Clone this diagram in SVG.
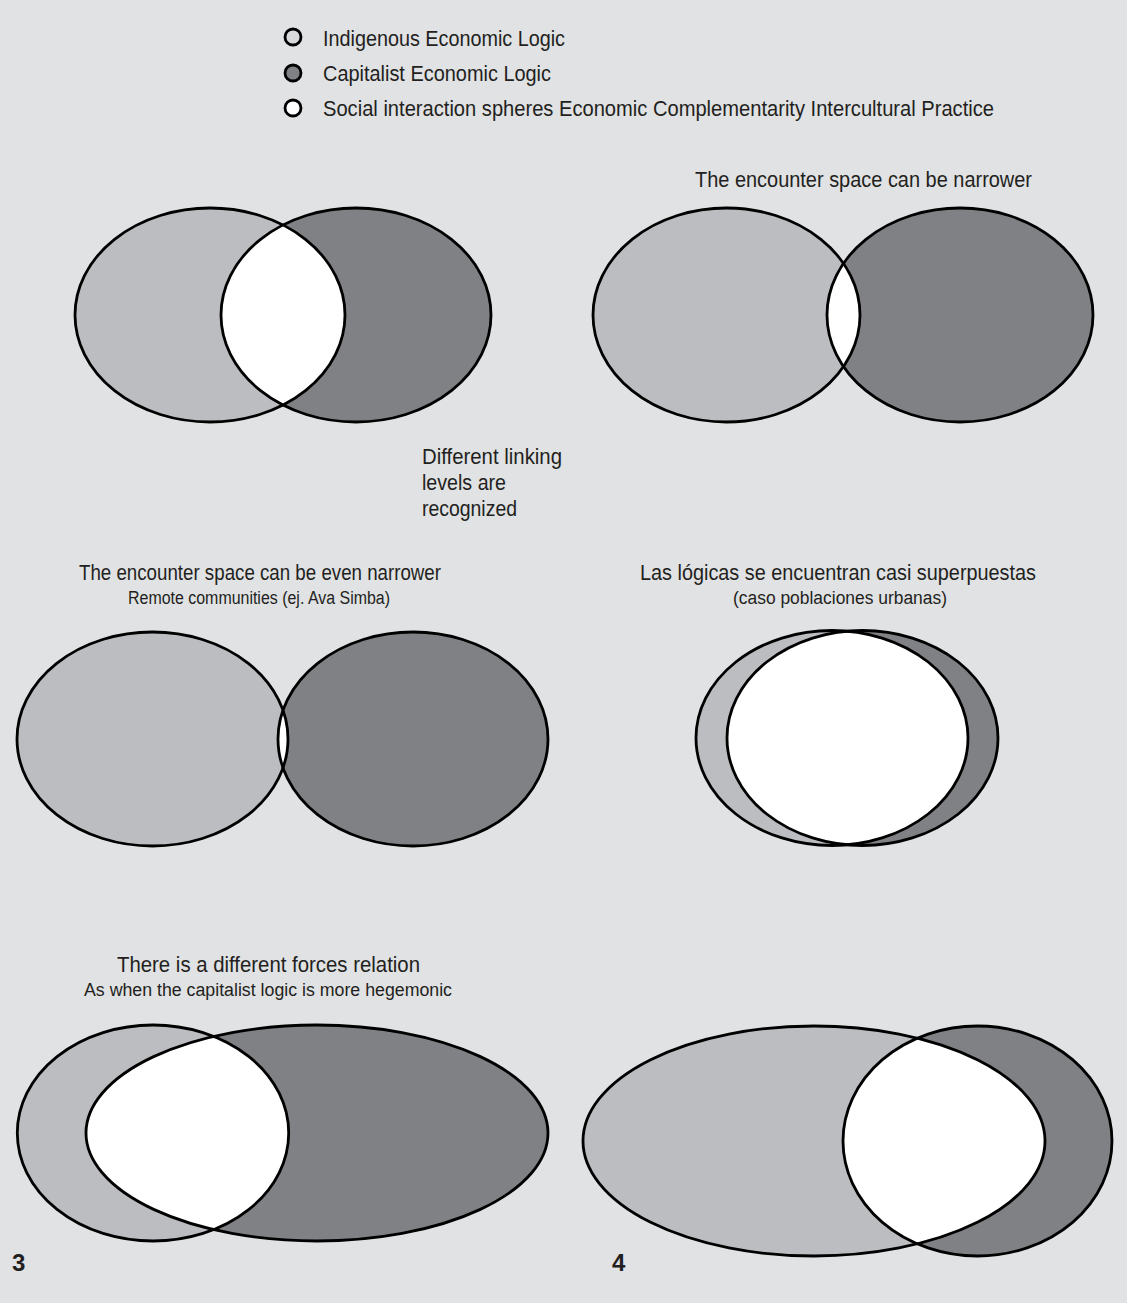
<svg xmlns="http://www.w3.org/2000/svg" width="1127" height="1303" viewBox="0 0 1127 1303">
<style>
.bg{fill:#e1e2e4}
.l{fill:#bcbdc1}
.d{fill:#808185}
.w{fill:#ffffff}
.s{fill:none;stroke:#000;stroke-width:2.8}
.lg{stroke:#000;stroke-width:2.8}
text{font-family:'Liberation Sans',Arial,sans-serif;fill:#231f20}
.t{font-size:22px}
.st{font-size:18px}
.n{font-size:24px;font-weight:bold}
</style>
<defs>
<clipPath id="c1"><ellipse cx="210" cy="315" rx="135" ry="107"/></clipPath>
<clipPath id="c2"><ellipse cx="726.5" cy="315" rx="133.5" ry="107"/></clipPath>
<clipPath id="c3"><ellipse cx="152.5" cy="739" rx="135.5" ry="107"/></clipPath>
<clipPath id="c4"><ellipse cx="832" cy="738" rx="136" ry="107.5"/></clipPath>
<clipPath id="c5"><ellipse cx="153" cy="1133" rx="135.7" ry="108"/></clipPath>
<clipPath id="c6"><ellipse cx="814" cy="1141" rx="231" ry="115"/></clipPath>
</defs>
<rect class="bg" x="0" y="0" width="1127" height="1303"/>

<g id="legend">
<circle class="lg" cx="293" cy="37" r="8" fill="#d9dadc"/>
<text class="t" x="323" y="46" textLength="242" lengthAdjust="spacingAndGlyphs">Indigenous Economic Logic</text>
<circle class="lg" cx="293" cy="73" r="8" fill="#808185"/>
<text class="t" x="323" y="81" textLength="228" lengthAdjust="spacingAndGlyphs">Capitalist Economic Logic</text>
<circle class="lg" cx="293" cy="108" r="8" fill="#fff"/>
<text class="t" x="323" y="116" textLength="671" lengthAdjust="spacingAndGlyphs">Social interaction spheres Economic Complementarity Intercultural Practice</text>
</g>

<g id="diagram1">
<ellipse class="l" cx="210" cy="315" rx="135" ry="107"/>
<ellipse class="d" cx="356" cy="315" rx="135" ry="107"/>
<ellipse class="w" cx="356" cy="315" rx="135" ry="107" clip-path="url(#c1)"/>
<ellipse class="s" cx="210" cy="315" rx="135" ry="107"/>
<ellipse class="s" cx="356" cy="315" rx="135" ry="107"/>
</g>

<g id="diagram2">
<text class="t" x="695" y="187" textLength="337" lengthAdjust="spacingAndGlyphs">The encounter space can be narrower</text>
<ellipse class="l" cx="726.5" cy="315" rx="133.5" ry="107"/>
<ellipse class="d" cx="960" cy="315" rx="133" ry="107"/>
<ellipse class="w" cx="960" cy="315" rx="133" ry="107" clip-path="url(#c2)"/>
<ellipse class="s" cx="726.5" cy="315" rx="133.5" ry="107"/>
<ellipse class="s" cx="960" cy="315" rx="133" ry="107"/>
</g>

<g id="note">
<text class="t" x="422" y="464" textLength="140" lengthAdjust="spacingAndGlyphs">Different linking</text>
<text class="t" x="422" y="490" textLength="84" lengthAdjust="spacingAndGlyphs">levels are</text>
<text class="t" x="422" y="516" textLength="95" lengthAdjust="spacingAndGlyphs">recognized</text>
</g>

<g id="diagram3">
<text class="t" x="79" y="580" textLength="362" lengthAdjust="spacingAndGlyphs">The encounter space can be even narrower</text>
<text class="st" x="128" y="604" textLength="262" lengthAdjust="spacingAndGlyphs">Remote communities (ej. Ava Simba)</text>
<ellipse class="l" cx="152.5" cy="739" rx="135.5" ry="107"/>
<ellipse class="d" cx="413" cy="739" rx="135" ry="107"/>
<ellipse class="w" cx="413" cy="739" rx="135" ry="107" clip-path="url(#c3)"/>
<ellipse class="s" cx="152.5" cy="739" rx="135.5" ry="107"/>
<ellipse class="s" cx="413" cy="739" rx="135" ry="107"/>
</g>

<g id="diagram4">
<text class="t" x="640" y="580" textLength="396" lengthAdjust="spacingAndGlyphs">Las lógicas se encuentran casi superpuestas</text>
<text class="st" x="733" y="604" textLength="214" lengthAdjust="spacingAndGlyphs">(caso poblaciones urbanas)</text>
<ellipse class="l" cx="832" cy="738" rx="136" ry="107.5"/>
<ellipse class="d" cx="862.5" cy="738" rx="135.5" ry="107.5"/>
<ellipse class="w" cx="862.5" cy="738" rx="135.5" ry="107.5" clip-path="url(#c4)"/>
<ellipse class="s" cx="832" cy="738" rx="136" ry="107.5"/>
<ellipse class="s" cx="862.5" cy="738" rx="135.5" ry="107.5"/>
</g>

<g id="diagram5">
<text class="t" x="117" y="972" textLength="303" lengthAdjust="spacingAndGlyphs">There is a different forces relation</text>
<text class="st" x="84" y="996" textLength="368" lengthAdjust="spacingAndGlyphs">As when the capitalist logic is more hegemonic</text>
<ellipse class="l" cx="153" cy="1133" rx="135.7" ry="108"/>
<ellipse class="d" cx="317" cy="1133" rx="231" ry="108"/>
<ellipse class="w" cx="317" cy="1133" rx="231" ry="108" clip-path="url(#c5)"/>
<ellipse class="s" cx="153" cy="1133" rx="135.7" ry="108"/>
<ellipse class="s" cx="317" cy="1133" rx="231" ry="108"/>
<text class="n" x="12" y="1271">3</text>
</g>

<g id="diagram6">
<ellipse class="l" cx="814" cy="1141" rx="231" ry="115"/>
<ellipse class="d" cx="977.5" cy="1141" rx="134.5" ry="115"/>
<ellipse class="w" cx="977.5" cy="1141" rx="134.5" ry="115" clip-path="url(#c6)"/>
<ellipse class="s" cx="814" cy="1141" rx="231" ry="115"/>
<ellipse class="s" cx="977.5" cy="1141" rx="134.5" ry="115"/>
<text class="n" x="612" y="1271">4</text>
</g>
</svg>
